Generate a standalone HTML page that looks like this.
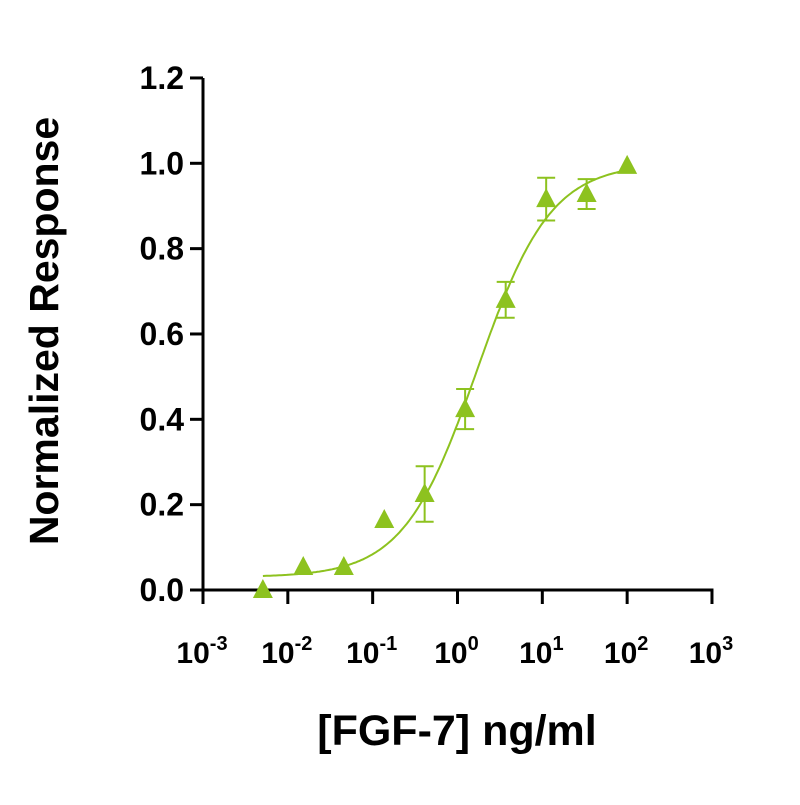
<!DOCTYPE html>
<html><head><meta charset="utf-8"><style>
body{margin:0;background:#fff}
svg text{font-family:"Liberation Sans",sans-serif;font-weight:bold;fill:#000}
</style></head><body>
<svg id="chart" width="800" height="800" viewBox="0 0 800 800" xmlns="http://www.w3.org/2000/svg">
<g id="axes"></g><g id="series"></g>
<text transform="translate(58,331) rotate(-90)" text-anchor="middle" font-size="41">Normalized Response</text>
<text x="457" y="745" text-anchor="middle" font-size="43">[FGF-7] ng/ml</text>
</svg>
<script>
const conc=[0.00508,0.0152,0.0457,0.137,0.41,1.23,3.7,11.1,33.3,100];
const resp=[0.0,0.054,0.054,0.164,0.225,0.424,0.68,0.916,0.928,0.994];
const errs=[0,0,0,0,0.065,0.047,0.042,0.05,0.035,0];
const yTicks=[0,0.2,0.4,0.6,0.8,1.0,1.2];
const yTickLabels=["0.0","0.2","0.4","0.6","0.8","1.0","1.2"];
const xExps=[-3,-2,-1,0,1,2,3];
const fitBottom=0.03,fitTop=1.0,fitEC50=1.7,fitHill=1.0;
const C="#8dc21f",NS="http://www.w3.org/2000/svg";
const X=v=>203+(Math.log10(v)+3)*84.83;
const Y=v=>590-v*426.7;
function mk(t,a,p){const e=document.createElementNS(NS,t);for(const k in a)e.setAttribute(k,a[k]);p.appendChild(e);return e;}
const ax=document.getElementById('axes'),se=document.getElementById('series');
const ya=mk('line',{x1:203,y1:Y(1.2),x2:203,y2:Y(0)+1.5,stroke:'#000','stroke-width':3},ax);


const xa=mk('line',{x1:201.5,y1:590,x2:X(1000)+1.5,y2:590,stroke:'#000','stroke-width':3},ax);


yTicks.forEach((v,i)=>{
  const t=mk('line',{x1:190,y1:Y(v),x2:203,y2:Y(v),stroke:'#000','stroke-width':3},ax);
  
  
  const l=mk('text',{x:184,y:Y(v)+11,'text-anchor':'end','font-size':32},ax);
  l.textContent=yTickLabels[i];
  
  
});
xExps.forEach(e=>{
  const x=X(Math.pow(10,e));
  const t=mk('line',{x1:x,y1:590,x2:x,y2:604,stroke:'#000','stroke-width':3},ax);
  
  
  const l=mk('text',{x:x-1,y:663,'text-anchor':'middle','font-size':30},ax);
  
  
  l.innerHTML='10<tspan dy="-13" font-size="20">'+e+'</tspan>';
});
let d='';
for(let i=0;i<=200;i++){const lx=Math.log10(conc[0])+i*(Math.log10(conc[9])-Math.log10(conc[0]))/200;const v=Math.pow(10,lx);
 const y=fitBottom+(fitTop-fitBottom)/(1+Math.pow(fitEC50/v,fitHill));d+=(i?'L':'M')+X(v).toFixed(1)+','+Y(y).toFixed(1);}
const fc=mk('path',{d:d,fill:'none',stroke:C,'stroke-width':2},se);


conc.forEach((c,i)=>{
  const x=X(c),y=Y(resp[i]);
  if(errs[i]>0){
    const g=mk('path',{d:`M${x},${Y(resp[i]+errs[i])}V${Y(resp[i]-errs[i])}M${x-9},${Y(resp[i]+errs[i])}h18M${x-9},${Y(resp[i]-errs[i])}h18`,stroke:C,'stroke-width':2,fill:'none'},se);
    
    
  }
  const p=mk('polygon',{points:`${x},${y-11} ${x-10},${y+8} ${x+10},${y+8}`,fill:C},se);
  
  
});
</script>
</body></html>
